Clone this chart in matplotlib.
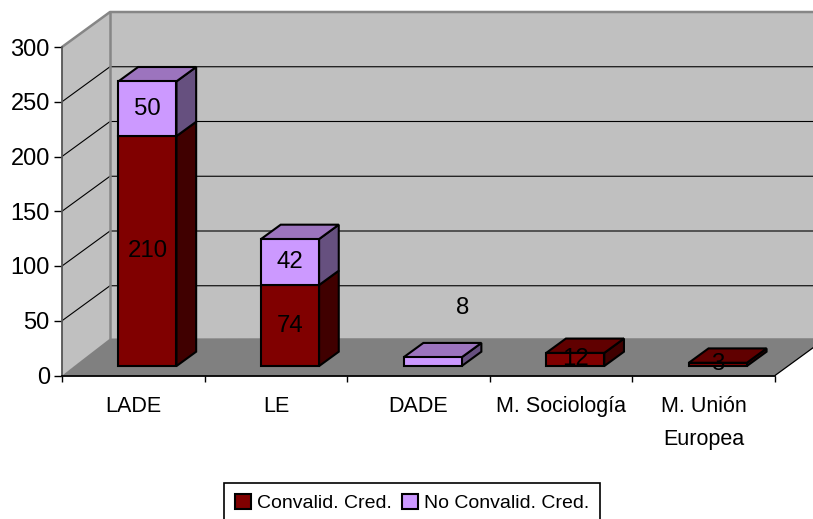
import matplotlib
matplotlib.use("Agg")
import matplotlib.pyplot as plt
from matplotlib.patches import Polygon, Patch

categories = ["LADE", "LE", "DADE", "M. Sociología", "M. Unión\nEuropea"]
convalid = [210, 74, 0, 12, 3]
no_convalid = [50, 42, 8, 0, 0]
series_names = ["Convalid. Cred.", "No Convalid. Cred."]
y_ticks = [0, 50, 100, 150, 200, 250, 300]

W, H = 813, 519
L, R, T, B = 62, 775, 47, 375.5
RED = ("#800000", "#600000", "#400000")
PUR = ("#CC99FF", "#9C74BE", "#66507F")
WALL, FLOOR, EDGE = "#C0C0C0", "#808080", "#868686"

plt.rcParams["font.family"] = ["Liberation Sans", "DejaVu Sans"]
FS_LABEL, FS_Y, FS_X, FS_LEG = 17.3, 17, 15.5, 14

fig = plt.figure(figsize=(W / 100, H / 100), dpi=100, facecolor="white")
ax = fig.add_axes([L / W, 1 - B / H, (R - L) / W, (B - T) / H], facecolor="none")
ax.set_xlim(0, len(categories))
ax.set_ylim(0, 300)

# oblique depth, in data units
DX = 48 / ((R - L) / len(categories))
DY = 35 / ((B - T) / 300)
FLOOR_Y = DY + 2 / ((B - T) / 300)
FRONT_X = 0.295
FRONT_Y = 0.27
DEPTH = 0.41
BW = 0.407
xmax = len(categories)
top = y_ticks[-1]

def poly(pts, fc, ec="none", lw=0, z=1):
    ax.add_patch(Polygon(pts, closed=True, fc=fc, ec=ec, lw=lw, zorder=z,
                         clip_on=False, joinstyle="miter"))

def line(xs, ys, c="black", lw=0.8, z=2):
    ax.plot(xs, ys, color=c, lw=lw, zorder=z, clip_on=False, solid_capstyle="butt")

poly([(0, 0), (0, top), (DX, top + DY), (DX, DY)], WALL)
poly([(DX, DY), (DX, top + DY), (xmax + DX, top + DY), (xmax + DX, DY)], WALL)
poly([(0, 0), (xmax, 0), (xmax + DX, DY), (DX, FLOOR_Y), (xmax + DX, FLOOR_Y)], FLOOR)
poly([(0, 0), (xmax, 0), (xmax + DX, DY), (xmax + DX, FLOOR_Y), (DX, FLOOR_Y)], FLOOR)
for v in y_ticks[1:-1]:
    line([0, DX, xmax + DX], [v, v + DY, v + DY])
line([xmax, xmax + DX], [0, DY], lw=0.9, z=2)
line([0, DX, xmax + DX], [top, top + DY, top + DY], c=EDGE, lw=1.8, z=2)
line([DX, DX], [FLOOR_Y, top + DY], c=EDGE, lw=1.8, z=2)

def segment(i, base, h, cols, is_top):
    x0 = i + 0.5 + FRONT_X * DX - BW / 2
    x1 = x0 + BW
    y0 = base + FRONT_Y * DY
    y1 = y0 + h
    dx, dy = DEPTH * DX, DEPTH * DY
    ax.bar(x0, h, width=BW, bottom=y0, align="edge", color=cols[0],
           edgecolor="black", linewidth=1.5, zorder=4, clip_on=False)
    poly([(x1, y0), (x1 + dx, y0 + dy), (x1 + dx, y1 + dy), (x1, y1)],
         cols[2], "black", 1.5, 3)
    if is_top:
        poly([(x0, y1), (x0 + dx, y1 + dy), (x1 + dx, y1 + dy), (x1, y1)],
             cols[1], "black", 1.5, 3)

for i in range(len(categories)):
    a, b = convalid[i], no_convalid[i]
    center = i + 0.5 + FRONT_X * DX
    if a:
        segment(i, 0, a, RED, b == 0)
        ax.text(center, a / 2 + FRONT_Y * DY, str(a), ha="center", va="center",
                fontsize=FS_LABEL, color="black", zorder=6)
    if b:
        segment(i, a, b, PUR, True)
        if a:
            ax.text(center, a + b / 2 + FRONT_Y * DY, str(b), ha="center", va="center",
                    fontsize=FS_LABEL, color="black", zorder=6)
        else:
            # this label was moved by hand in the original chart
            ax.annotate(str(b), (center, b / 2 + FRONT_Y * DY), xytext=(21.5, 39),
                        textcoords="offset points", ha="center", va="center",
                        fontsize=FS_LABEL, color="black", zorder=6)

for s in ("top", "right"):
    ax.spines[s].set_visible(False)
ax.spines["left"].set_color("#555555")
ax.spines["left"].set_linewidth(1.3)
ax.spines["bottom"].set_color("black")
ax.spines["bottom"].set_linewidth(1.3)
for s in ax.spines.values():
    s.set_zorder(3)

ax.set_yticks(y_ticks)
ax.tick_params(axis="y", length=5.8, width=1, pad=3, labelsize=FS_Y)
ax.set_xticks(range(xmax + 1))
ax.set_xticklabels([])
ax.tick_params(axis="x", which="major", length=4.5, width=1)
ax.set_xticks([i + 0.5 for i in range(xmax)], minor=True)
ax.set_xticklabels(categories, minor=True, fontsize=FS_X, linespacing=1.76)
ax.tick_params(axis="x", which="minor", length=0, pad=15)

handles = [Patch(fc=RED[0], ec="black", lw=1.5, label=series_names[0]),
           Patch(fc=PUR[0], ec="black", lw=1.5, label=series_names[1])]
leg = fig.legend(handles=handles, ncol=2, loc="lower left",
                 bbox_to_anchor=(224 / W, -4 / H), bbox_transform=fig.transFigure,
                 fontsize=FS_LEG, frameon=True, fancybox=False, framealpha=1,
                 edgecolor="black", borderaxespad=0, borderpad=0.55,
                 handlelength=0.85, handleheight=0.85, handletextpad=0.3,
                 columnspacing=0.5)
leg.get_frame().set_linewidth(1.2)

fig.savefig("out.png", dpi=100)
